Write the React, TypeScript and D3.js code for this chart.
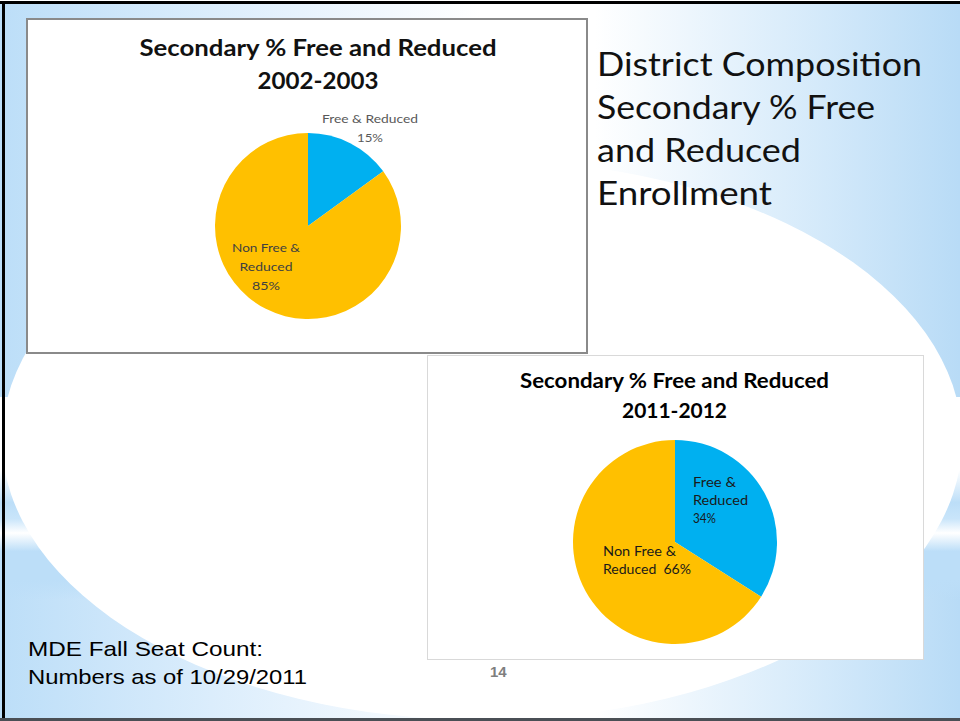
import React from "react";
import * as d3 from "d3";

// ---------- data ----------
const categories = ["Free & Reduced", "Non Free & Reduced"];
const values2002 = [15, 85];
const values2011 = [34, 66];
const sliceColors = ["#00b0f0", "#ffc000"];
const title2002 = ["Secondary % Free and Reduced", "2002-2003"];
const title2011 = ["Secondary % Free and Reduced", "2011-2012"];
const labels2002 = [["Free & Reduced", "15%"], ["Non Free &", "Reduced", "85%"]];
const labels2011 = [["Free &", "Reduced", "34%"], ["Non Free &", "Reduced  66%"]];
const headingLines = ["District Composition", "Secondary % Free", "and Reduced", "Enrollment"];
const footnoteLines = ["MDE Fall Seat Count:", "Numbers as of 10/29/2011"];
const pageNumber = "14";

const W = 960;
const H = 721;
const CAL = "Lato, 'Open Sans', sans-serif";
const ARIAL = "'Liberation Sans', Arial, sans-serif";

type LabelSpec = {
  dx: number;
  dy: number;
  step: number;
  anchor: "start" | "middle";
  widths: number[];
  color: string;
};

function Pie({
  cx, cy, r, values, labels, specs, fontSize,
}: {
  cx: number; cy: number; r: number; values: number[]; labels: string[][];
  specs: LabelSpec[]; fontSize: number;
}) {
  const pie = d3.pie<number>().sort(null).value((d) => d)(values);
  const arc = d3.arc<d3.PieArcDatum<number>>().innerRadius(0).outerRadius(r);
  return (
    <g transform={`translate(${cx},${cy})`}>
      {pie.map((p, i) => (
        <path key={categories[i]} d={arc(p) || ""} fill={sliceColors[i]} />
      ))}
      {labels.map((lines, i) =>
        lines.map((t, j) => (
          <text
            key={`${i}-${j}`}
            x={specs[i].dx}
            y={specs[i].dy + j * specs[i].step}
            textAnchor={specs[i].anchor}
            fontFamily={CAL}
            fontSize={fontSize}
            fill={specs[i].color}
            textLength={specs[i].widths[j]}
            lengthAdjust="spacingAndGlyphs"
            style={{ whiteSpace: "pre" }}
          >
            {t}
          </text>
        ))
      )}
    </g>
  );
}

export default function App() {
  return (
    <div style={{ position: "absolute", left: 0, top: 0, width: W, height: H }}>
      <svg width={W} height={H} viewBox={`0 0 ${W} ${H}`} style={{ display: "block" }}>
        <defs>
          <linearGradient id="bgH" x1="0" x2="1" y1="0" y2="0">
            <stop offset="0" stopColor="#bcdef8" />
            <stop offset="0.22" stopColor="#dbedfc" />
            <stop offset="0.5" stopColor="#ffffff" />
            <stop offset="0.62" stopColor="#ffffff" />
            <stop offset="0.86" stopColor="#d3e9fa" />
            <stop offset="1" stopColor="#b8dbf6" />
          </linearGradient>
          <linearGradient id="band" x1="0" x2="0" y1="0" y2="1">
            <stop offset="0" stopColor="#ffffff" />
            <stop offset="0.36" stopColor="#ffffff" />
            <stop offset="0.52" stopColor="#bcdef8" />
            <stop offset="0.6" stopColor="#c9e5fa" />
            <stop offset="0.67" stopColor="#ffffff" />
            <stop offset="0.76" stopColor="#bcdef8" />
            <stop offset="0.9" stopColor="#bcdef8" stopOpacity="1" />
            <stop offset="1" stopColor="#bcdef8" stopOpacity="0" />
          </linearGradient>
        </defs>

        {/* slide background */}
        <rect x={0} y={0} width={W} height={H} fill="url(#bgH)" />
        <rect x={0} y={397} width={W} height={203} fill="url(#band)" />
        <ellipse cx={482} cy={440} rx={480} ry={280} fill="#ffffff" />

        {/* frame */}
        <rect x={0} y={0} width={W} height={1} fill="#ffffff" />
        <rect x={0} y={1} width={W} height={3} fill="#000000" />
        <rect x={2} y={1} width={3} height={H} fill="#000000" />
        <rect x={0} y={718} width={W} height={3} fill="#4a4f55" />

        {/* chart 1 box */}
        <rect x={27} y={19} width={560} height={334} fill="#ffffff" stroke="#8a8a8a" strokeWidth={2} />
        {title2002.map((t, i) => (
          <text
            key={t}
            x={318}
            y={56 + i * 33}
            textAnchor="middle"
            fontFamily={CAL}
            fontWeight="bold"
            fontSize={22}
            fill="#111"
            textLength={i === 0 ? 357 : 121}
            lengthAdjust="spacingAndGlyphs"
          >
            {t}
          </text>
        ))}
        <Pie
          cx={308}
          cy={226}
          r={93}
          values={values2002}
          labels={labels2002}
          fontSize={12}
          specs={[
            { dx: 62, dy: -103, step: 19, anchor: "middle", widths: [96, 26], color: "#595959" },
            { dx: -42, dy: 26, step: 19, anchor: "middle", widths: [68, 53, 28], color: "#404040" },
          ]}
        />

        {/* heading */}
        {headingLines.map((t, i) => (
          <text
            key={t}
            x={597}
            y={76 + i * 43}
            fontFamily={CAL}
            fontSize={33}
            fill="#111"
            textLength={[325, 278, 204, 175][i]}
            lengthAdjust="spacingAndGlyphs"
          >
            {t}
          </text>
        ))}

        {/* chart 2 box */}
        <rect x={427.5} y={355.5} width={496} height={304} fill="#ffffff" stroke="#d9d9d9" strokeWidth={1} />
        {title2011.map((t, i) => (
          <text
            key={t}
            x={674.5}
            y={388 + i * 30}
            textAnchor="middle"
            fontFamily={CAL}
            fontWeight="bold"
            fontSize={21}
            fill="#000"
            textLength={i === 0 ? 309 : 105}
            lengthAdjust="spacingAndGlyphs"
          >
            {t}
          </text>
        ))}
        <Pie
          cx={675}
          cy={542}
          r={102}
          values={values2011}
          labels={labels2011}
          fontSize={14}
          specs={[
            { dx: 18, dy: -55, step: 18, anchor: "start", widths: [43, 55, 23], color: "#1a1a1a" },
            { dx: -72, dy: 14, step: 17.5, anchor: "start", widths: [73, 88], color: "#1a1a1a" },
          ]}
        />

        {/* footnote */}
        {footnoteLines.map((t, i) => (
          <text
            key={t}
            x={28}
            y={656 + i * 28}
            fontFamily={ARIAL}
            fontSize={21}
            fill="#000"
            textLength={i === 0 ? 235 : 279}
            lengthAdjust="spacingAndGlyphs"
          >
            {t}
          </text>
        ))}
        <text x={490} y={677} fontFamily={ARIAL} fontWeight="bold" fontSize={15} fill="#7f7f7f">
          {pageNumber}
        </text>
      </svg>
    </div>
  );
}
